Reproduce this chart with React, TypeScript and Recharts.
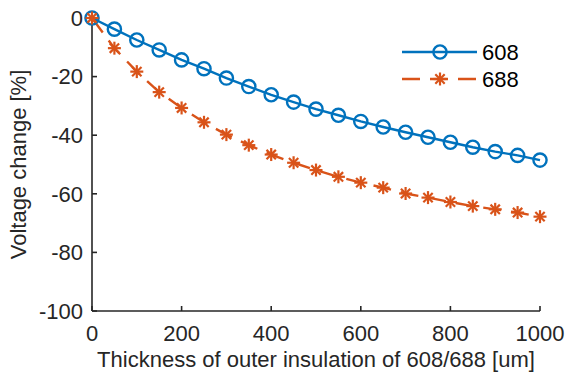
import React from 'react';
import { LineChart, Line, XAxis, YAxis, Legend } from 'recharts';

const thickness = [0, 50, 100, 150, 200, 250, 300, 350, 400, 450, 500, 550, 600, 650, 700, 750, 800, 850, 900, 950, 1000];
const v608 = [0, -3.8, -7.5, -10.9, -14.3, -17.3, -20.5, -23.4, -26.2, -28.7, -31.1, -33.2, -35.3, -37.2, -39.0, -40.7, -42.4, -44.1, -45.6, -46.9, -48.5];
const v688 = [0, -10.3, -18.3, -25.3, -30.7, -35.6, -39.8, -43.4, -46.6, -49.4, -51.9, -54.2, -56.2, -57.9, -59.9, -61.3, -62.8, -64.2, -65.3, -66.4, -67.8];
const xTicks = [0, 200, 400, 600, 800, 1000];
const yTicks = [-100, -80, -60, -40, -20, 0];
const seriesNames = ['608', '688'];
const xLabel = 'Thickness of outer insulation of 608/688 [um]';
const yLabel = 'Voltage change [%]';

const BLUE = '#0072BD';
const ORANGE = '#D95319';
const AXIS = '#262626';
const FONT = '"Liberation Sans", Arial, Helvetica, sans-serif';
const FS = 22;

const data = thickness.map((x, i) => ({ x, a: v608[i], b: v688[i] }));

function Asterisk({ cx, cy, r = 6.5 }: { cx: number; cy: number; r?: number }) {
  const d = r * 0.72;
  return (
    <g stroke={ORANGE} strokeWidth={2.2} strokeLinecap="butt">
      <line x1={cx - r} y1={cy} x2={cx + r} y2={cy} />
      <line x1={cx} y1={cy - r} x2={cx} y2={cy + r} />
      <line x1={cx - d} y1={cy - d} x2={cx + d} y2={cy + d} />
      <line x1={cx - d} y1={cy + d} x2={cx + d} y2={cy - d} />
    </g>
  );
}

function Circle({ cx, cy }: { cx: number; cy: number }) {
  return <circle cx={cx} cy={cy} r={6.6} fill="none" stroke={BLUE} strokeWidth={2.4} />;
}

function YLabel(props: any) {
  const vb = props.viewBox || {};
  const cy = vb.y + vb.height / 2;
  const cx = 26;
  return (
    <text x={cx} y={cy} transform={`rotate(-90, ${cx}, ${cy})`} textAnchor="middle" fill={AXIS} fontSize={FS} fontFamily={FONT}>
      {yLabel}
    </text>
  );
}

function LegendContent() {
  return (
    <svg width={140} height={60} style={{ display: 'block', overflow: 'visible' }}>
      <line x1={7} y1={17} x2={82} y2={17} stroke={BLUE} strokeWidth={2.4} />
      <Circle cx={45} cy={17} />
      <text x={87} y={17} dy="0.36em" fill="#000" fontSize={FS} fontFamily={FONT}>{seriesNames[0]}</text>
      <line x1={7} y1={44} x2={82} y2={44} stroke={ORANGE} strokeWidth={2.4} strokeDasharray="18 10" />
      <Asterisk cx={45} cy={44} />
      <text x={87} y={44} dy="0.36em" fill="#000" fontSize={FS} fontFamily={FONT}>{seriesNames[1]}</text>
    </svg>
  );
}

const tickStyle = { fill: AXIS, fontSize: FS, fontFamily: FONT };
const axisLine = { stroke: AXIS, strokeWidth: 1.6 };
const tickLine = { stroke: AXIS, strokeWidth: 1.6 };

export default function App() {
  return (
    <div style={{ position: 'absolute', left: 0, top: 0, width: 566, height: 373, background: '#fff' }}>
      <LineChart width={566} height={373} data={data} margin={{ top: 18, right: 26, bottom: 0, left: 0 }}>
        <XAxis
          dataKey="x"
          type="number"
          domain={[0, 1000]}
          ticks={xTicks}
          interval={0}
          height={62}
          tickSize={-5}
          tickMargin={19}
          tick={tickStyle}
          axisLine={axisLine}
          tickLine={tickLine}
          label={{ value: xLabel, position: 'insideBottom', offset: 6, fill: AXIS, fontSize: FS, fontFamily: FONT }}
        />
        <XAxis
          xAxisId="top"
          orientation="top"
          dataKey="x"
          type="number"
          domain={[0, 1000]}
          ticks={xTicks}
          interval={0}
          height={0}
          tickSize={-5}
          tickFormatter={() => ''}
          axisLine={axisLine}
          tickLine={tickLine}
        />
        <YAxis
          type="number"
          domain={[-100, 0]}
          ticks={yTicks}
          interval={0}
          width={92}
          tickSize={-5}
          tickMargin={14}
          tick={tickStyle}
          axisLine={axisLine}
          tickLine={tickLine}
          label={<YLabel />}
        />
        <YAxis
          yAxisId="right"
          orientation="right"
          type="number"
          domain={[-100, 0]}
          ticks={yTicks}
          interval={0}
          width={0}
          tickSize={-5}
          tickFormatter={() => ''}
          axisLine={axisLine}
          tickLine={tickLine}
        />
        <Legend
          layout="vertical"
          align="center"
          verticalAlign="middle"
          content={<LegendContent />}
          wrapperStyle={{ left: 395, top: 35, width: 140, height: 60 }}
        />
        <Line
          dataKey="a"
          stroke={BLUE}
          strokeWidth={2.4}
          isAnimationActive={false}
          dot={(p: any) => <Circle key={`c${p.index}`} cx={p.cx} cy={p.cy} />}
          activeDot={false}
        />
        <Line
          dataKey="b"
          stroke={ORANGE}
          strokeWidth={2.4}
          strokeDasharray="18 10"
          isAnimationActive={false}
          dot={(p: any) => <Asterisk key={`s${p.index}`} cx={p.cx} cy={p.cy} />}
          activeDot={false}
        />
      </LineChart>
    </div>
  );
}
